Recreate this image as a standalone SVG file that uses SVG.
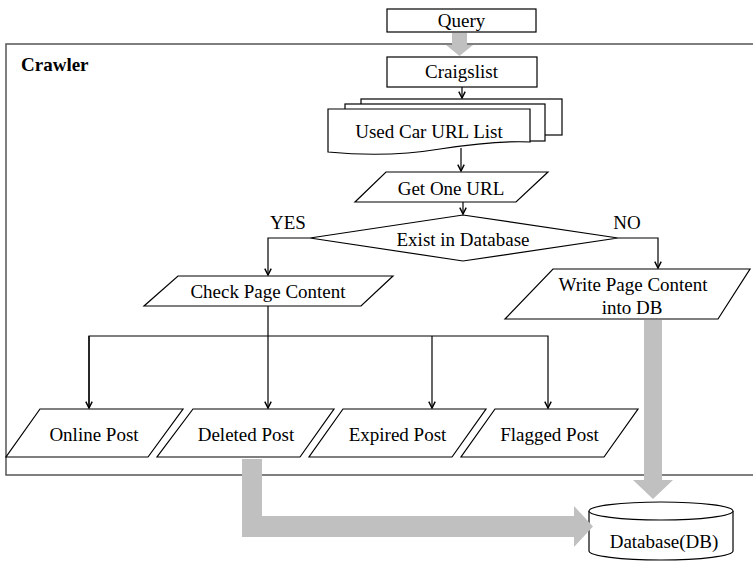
<svg xmlns="http://www.w3.org/2000/svg" width="753" height="563" viewBox="0 0 753 563">
<defs>
<style>
text{font-family:"Liberation Serif","Times New Roman",serif;font-size:19px;fill:#000;text-anchor:middle}
.b{font-weight:bold;text-anchor:start}
.s{fill:#fff;stroke:#000;stroke-width:1.2}
.c{fill:none;stroke:#000;stroke-width:1.2}
.g{fill:#c0c0c0;stroke:none}
</style>
<marker id="ah" viewBox="0 0 10 10" refX="9" refY="5" markerWidth="8" markerHeight="8" markerUnits="userSpaceOnUse" orient="auto">
<path d="M1,1 L9,5 L1,9" fill="none" stroke="#000" stroke-width="1.8"/>
</marker>
</defs>
<rect width="753" height="563" fill="#fff"/>
<g id="crawler">
<path d="M760,44 H6 V475 H760" fill="none" stroke="#555" stroke-width="1.5"/>
<text class="b" x="21" y="71">Crawler</text>
</g>
<g id="query"><rect class="s" x="387" y="9" width="149" height="23"/><text x="461.5" y="27">Query</text></g>
<g id="craigslist"><rect class="s" x="387" y="57" width="150" height="30"/><text x="461.5" y="78">Craigslist</text></g>
<g id="urllist">
<rect class="s" x="361" y="99" width="201" height="36"/>
<rect class="s" x="345" y="104" width="200" height="37"/>
<path class="s" d="M328,109 H530 V142 C510,141 480,143 440,149 C410,154 370,156 328,152 Z"/>
<text x="429" y="138">Used Car URL List</text>
</g>
<g id="getone"><polygon class="s" points="386,172 548,172 516,202 355,202"/><text x="451" y="195">Get One URL</text></g>
<g id="exist"><polygon class="s" points="463,215 618,238 463,261 310,238"/><text x="463" y="246">Exist in Database</text></g>
<g id="check"><polygon class="s" points="178,276 393,276 361,306 144,306"/><text x="268" y="298">Check Page Content</text></g>
<g id="write"><polygon class="s" points="553,269 750,269 718,319 505,319"/><text x="633" y="291">Write Page Content</text><text x="632" y="314">into DB</text></g>
<g id="online"><polygon class="s" points="40,409 183,409 148,457 6,457"/><text x="94" y="441">Online Post</text></g>
<g id="deleted"><polygon class="s" points="193,409 334,409 300,457 157,457"/><text x="246" y="441">Deleted Post</text></g>
<g id="expired"><polygon class="s" points="343,409 486,409 452,457 309,457"/><text x="397.5" y="441">Expired Post</text></g>
<g id="flagged"><polygon class="s" points="495,409 638,409 604,457 461,457"/><text x="549.5" y="441">Flagged Post</text></g>
<g id="database">
<path class="s" d="M589,511 V551 A72,9 0 0 0 733,551 V511"/>
<ellipse class="s" cx="661" cy="511" rx="72" ry="9"/>
<text x="664" y="548">Database(DB)</text>
</g>
<g id="connectors">
<path class="c" d="M462,87 V98" marker-end="url(#ah)"/>
<path class="c" d="M461,148 V171" marker-end="url(#ah)"/>
<path class="c" d="M463,202 V214" marker-end="url(#ah)"/>
<path class="c" d="M310,238 H268 V275" marker-end="url(#ah)"/>
<path class="c" d="M618,238 H658 V268" marker-end="url(#ah)"/>
<text x="288" y="229">YES</text>
<text x="627" y="229">NO</text>
<path class="c" d="M268,306 V408" marker-end="url(#ah)"/>
<path class="c" d="M89,408 V336 H548 V408" marker-end="url(#ah)"/>
<path class="c" d="M89,336 V408" marker-end="url(#ah)"/>
<path class="c" d="M432,336 V408" marker-end="url(#ah)"/>
<polygon class="g" points="452,33 467,33 467,45 473,45 459.5,56 446,45 452,45"/>
<polygon class="g" points="644,320 662,320 662,480 673,480 653,499 633,480 644,480"/>
<polygon class="g" points="242,459 262,459 262,516 574,516 574,506 593,526.5 574,547 574,537 242,537"/>
</g>
</svg>
